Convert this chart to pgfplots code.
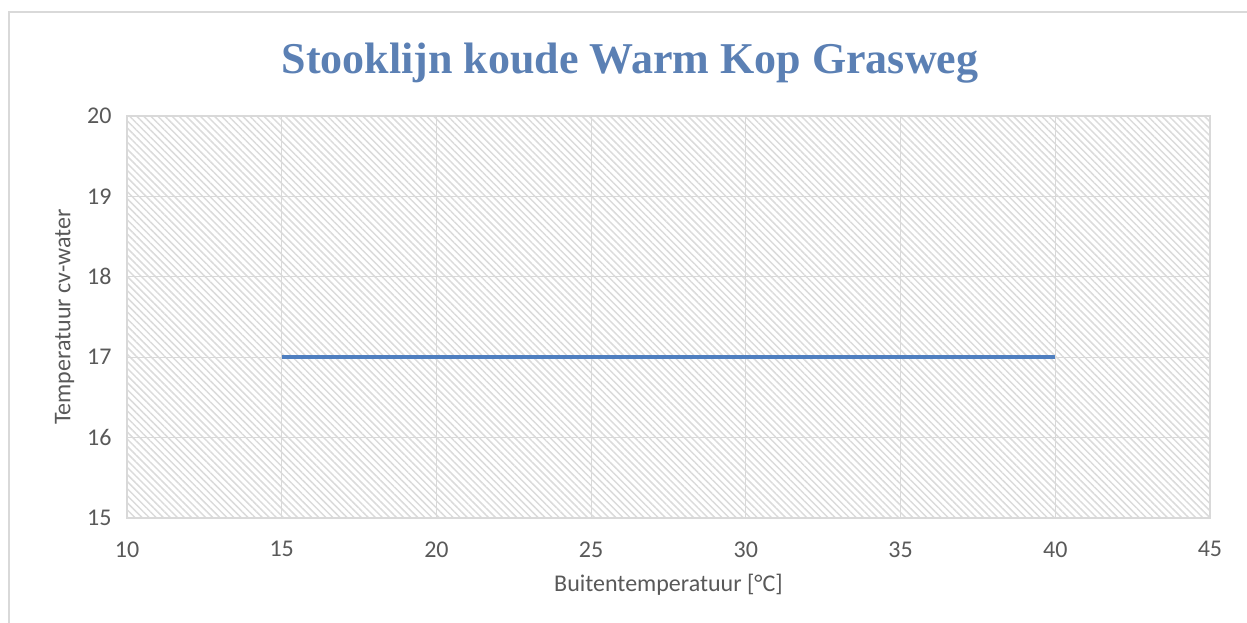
\documentclass[border=0pt]{standalone}
\usepackage{pgfplots}
\pgfplotsset{compat=1.18}
\usepackage{fontspec}
\setmainfont{Carlito}
\newfontfamily\titlefont{Liberation Serif}
\usetikzlibrary{patterns.meta}
\definecolor{linec}{HTML}{4F7FC0}
\definecolor{titlec}{HTML}{5B80B4}
\definecolor{gridc}{HTML}{D9D9D9}
\definecolor{textc}{HTML}{595959}
\begin{document}
\begin{tikzpicture}[x=1pt,y=1pt]
\useasboundingbox (0,0) rectangle (1247,623);
\begin{scope}
\clip (0,0) rectangle (1247,623);
\draw[gridc, line width=1.5pt] (9,-20) -- (9,611) -- (1270,611);
\end{scope}
\fill[pattern={Lines[angle=-45,distance=5pt,line width=1.5pt]}, pattern color=gray!28] (127,105) rectangle (1210,507);
\begin{axis}[
  at={(127pt,105pt)}, anchor=south west,
  scale only axis, width=1083pt, height=402pt,
  xmin=10, xmax=45, ymin=15, ymax=20,
  xtick={10,15,...,45}, ytick={15,16,...,20},
  grid=major, major grid style={gridc, line width=1.2pt},
  axis line style={gridc, line width=1.2pt},
  tick style={draw=none},
  tick label style={font=\fontsize{24}{26}\selectfont, text=textc},
  xticklabel style={yshift=-20pt},
  yticklabel style={xshift=-12pt},
  xlabel={Buitentemperatuur [°C]},
  ylabel={Temperatuur cv-water},
  label style={font=\fontsize{24}{26}\selectfont, text=textc},
  xlabel style={yshift=-10pt},
  ylabel style={yshift=6pt},
  /pgf/number format/assume math mode=true,
]
\addplot[linec, line width=3.5pt] coordinates {(15,17) (40,17)};
\end{axis}
\node[font=\titlefont\bfseries\fontsize{44}{48}\selectfont, text=titlec] at (630,560) {Stooklijn koude Warm Kop Grasweg};
\end{tikzpicture}
\end{document}
